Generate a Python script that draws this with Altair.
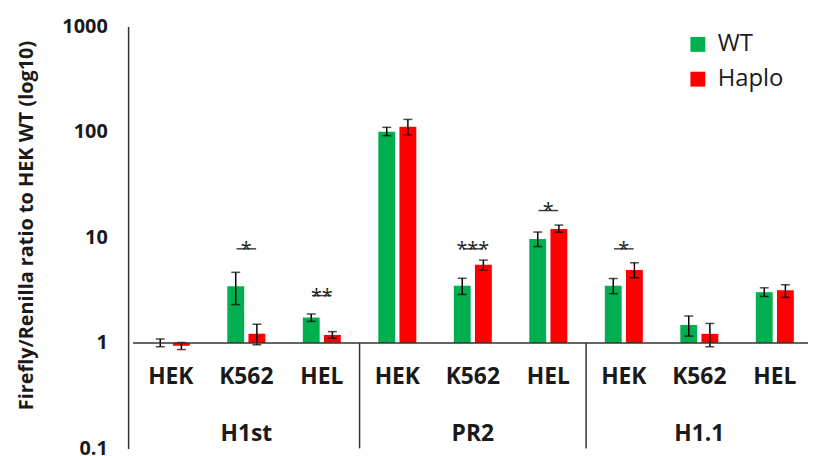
import altair as alt
import pandas as pd

groups = ["H1st", "PR2", "H1.1"]
cells = ["HEK", "K562", "HEL"]
series = ["WT", "Haplo"]

wt = [1.0, 3.45, 1.74, 100.7, 3.48, 9.68, 3.48, 1.48, 3.03]
wt_lo = [0.92, 2.31, 1.6, 92.3, 2.88, 8.2, 2.93, 1.16, 2.76]
wt_hi = [1.09, 4.67, 1.88, 110.7, 4.1, 11.26, 4.08, 1.8, 3.33]
haplo = [0.94, 1.22, 1.19, 112.0, 5.52, 12.0, 4.92, 1.22, 3.15]
haplo_lo = [0.865, 0.96, 1.11, 93.7, 4.92, 11.2, 4.14, 0.92, 2.7]
haplo_hi = [1.01, 1.5, 1.28, 131.6, 6.1, 13.1, 5.76, 1.53, 3.56]

sig_idx = [1, 2, 4, 5, 6]
sig_text = ["*", "**", "***", "*", "*"]
sig_y = [7.8, 2.81, 7.8, 18.0, 7.8]

y_ticks = [0.1, 1, 10, 100, 1000]

GREEN = "#00B050"
RED = "#FF0000"
FONT = "Open Sans"
TXT = "#1a1a1a"
XMAX = 8.94

rows = []
for i in range(9):
    for s, v, lo, hi, off in [("WT", wt, wt_lo, wt_hi, -0.14),
                              ("Haplo", haplo, haplo_lo, haplo_hi, 0.14)]:
        rows.append(dict(x=i + 0.5 + off, series=s, value=v[i], lo=lo[i], hi=hi[i], base=1))
df = pd.DataFrame(rows)

xs = alt.Scale(domain=[0, XMAX], nice=False, zero=False)
ys = alt.Scale(type="log", domain=[0.1, 1000], nice=False)

bars = alt.Chart(df).mark_bar(size=17).encode(
    x=alt.X("x:Q", scale=xs, axis=None),
    y=alt.Y("value:Q", scale=ys,
            axis=alt.Axis(values=y_ticks, format="~g", grid=False, ticks=False, tickSize=0,
                          labelPadding=21, labelFont=FONT, labelFontSize=20, labelFontWeight="bold",
                          labelColor=TXT, domainColor="#333333", domainWidth=1.5,
                          title="Firefly/Renilla ratio to HEK WT (log10)", titleFont=FONT,
                          titleFontSize=20, titleFontWeight="bold", titleColor=TXT, titlePadding=26,
                          titleY=200)),
    y2="base:Q",
    color=alt.Color("series:N", scale=alt.Scale(domain=series, range=[GREEN, RED]),
                    legend=alt.Legend(title=None, orient="none", legendX=562, legendY=6,
                                      symbolType="square", symbolSize=225, symbolStrokeWidth=0,
                                      labelFont=FONT, labelFontSize=24, labelColor=TXT,
                                      labelOffset=8, rowPadding=11)),
)

err = alt.Chart(df).mark_rule(color="black", strokeWidth=1.5).encode(x="x:Q", y="lo:Q", y2="hi:Q")
cap_lo = alt.Chart(df).mark_tick(orient="horizontal", size=9, thickness=1.5, color="black").encode(x="x:Q", y="lo:Q")
cap_hi = alt.Chart(df).mark_tick(orient="horizontal", size=9, thickness=1.5, color="black").encode(x="x:Q", y="hi:Q")

axis_df = pd.DataFrame({"x": [0], "x2": [XMAX], "y": [1]})
xaxis = alt.Chart(axis_df).mark_rule(color="#333333", strokeWidth=1.5).encode(x="x:Q", x2="x2:Q", y="y:Q")

sep_df = pd.DataFrame({"x": [3, 6], "y": [1, 1], "y2": [0.1, 0.1]})
seps = alt.Chart(sep_df).mark_rule(color="#333333", strokeWidth=1.5).encode(x="x:Q", y="y:Q", y2="y2:Q")

cat_df = pd.DataFrame({"x": [i + 0.5 for i in range(9)], "label": cells * 3, "y": [1] * 9})
cat_text = alt.Chart(cat_df).mark_text(font=FONT, fontSize=23, fontWeight="bold", color=TXT,
                                       baseline="middle", dy=34).encode(x="x:Q", y="y:Q", text="label:N")

grp_df = pd.DataFrame({"x": [1.5, 4.5, 7.5], "label": groups, "y": [1] * 3})
grp_text = alt.Chart(grp_df).mark_text(font=FONT, fontSize=23, fontWeight="bold", color=TXT,
                                       baseline="middle", dy=92).encode(x="x:Q", y="y:Q", text="label:N")

sig_df = pd.DataFrame({"x": [i + 0.5 - 0.13 for i in sig_idx], "x2": [i + 0.5 + 0.13 for i in sig_idx],
                       "xc": [i + 0.5 for i in sig_idx], "y": sig_y, "label": sig_text})
sig_line = alt.Chart(sig_df).mark_rule(color="#404040", strokeWidth=1.5).encode(x="x:Q", x2="x2:Q", y="y:Q")
sig_star = alt.Chart(sig_df).mark_text(font=FONT, fontSize=20, color=TXT, baseline="alphabetic", dy=7).encode(
    x="xc:Q", y="y:Q", text="label:N")

chart = alt.layer(bars, err, cap_lo, cap_hi, xaxis, seps, cat_text, grp_text, sig_line, sig_star).properties(
    width=690, height=425,
    autosize=alt.AutoSizeParams(type="none"),
    padding={"left": 121, "top": 17, "right": 0, "bottom": 6},
).configure_view(stroke=None)

chart.save("out.html", embed_options={"renderer": "svg", "actions": False})
